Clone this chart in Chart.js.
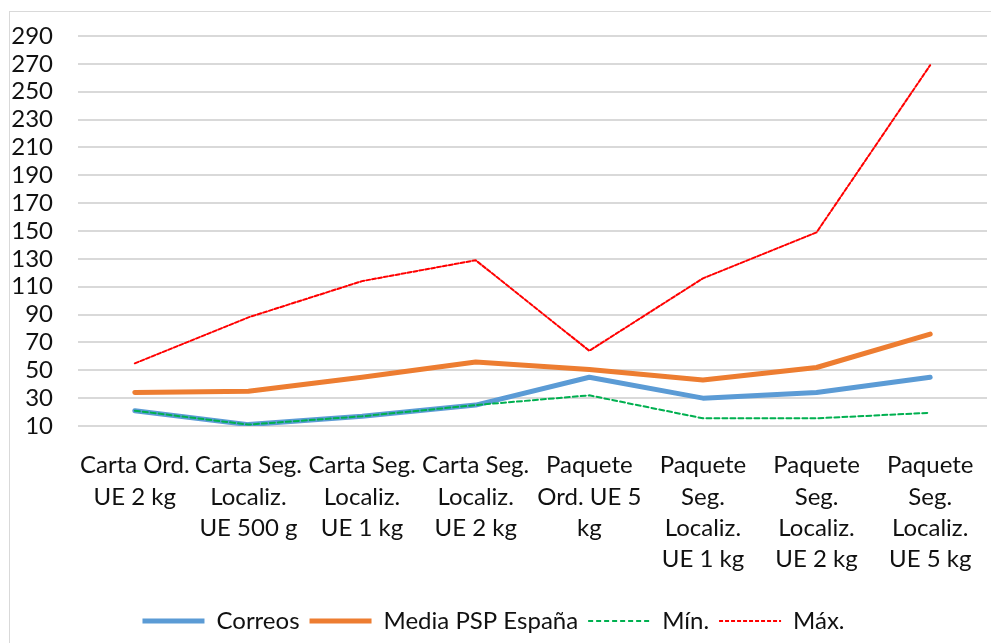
<!DOCTYPE html>
<html lang="es">
<head>
<meta charset="utf-8">
<title>Correos vs PSP España</title>
<script src="https://cdn.jsdelivr.net/npm/chart.js@4"></script>
<style>
    body { margin: 0; background: #fff; }
    #marco { position: relative; width: 991px; height: 643px; overflow: hidden; }
    #borde { position: absolute; left: 9px; top: 11px; width: 1000px; height: 700px; border: 1px solid #d9d9d9; }
    #grafica { position: absolute; left: 0; top: 0; }
</style>
</head>
<body>
<div id="marco">
    <div id="borde"></div>
    <canvas id="grafica" width="991" height="643"></canvas>
</div>
<script>
// Categorías (etiquetas en varias líneas como en el original)
const categorias = [
    ['Carta Ord.', 'UE 2 kg'],
    ['Carta Seg.', 'Localiz.', 'UE 500 g'],
    ['Carta Seg.', 'Localiz.', 'UE 1 kg'],
    ['Carta Seg.', 'Localiz.', 'UE 2 kg'],
    ['Paquete', 'Ord. UE 5', 'kg'],
    ['Paquete', 'Seg.', 'Localiz.', 'UE 1 kg'],
    ['Paquete', 'Seg.', 'Localiz.', 'UE 2 kg'],
    ['Paquete', 'Seg.', 'Localiz.', 'UE 5 kg']
];

// Valores de cada serie
const correos = [21, 11, 17, 25, 45, 30, 34, 45];
const mediaPsp = [34, 35, 45, 56, 50.5, 43, 52, 76];
const minimo = [21, 11, 17, 25, 32, 15.5, 15.5, 19.5];
const maximo = [55, 88, 114, 129, 64, 116, 149, 269];

// Marcas del eje Y
const marcasY = [10, 30, 50, 70, 90, 110, 130, 150, 170, 190, 210, 230, 250, 270, 290];

const fuente = { family: 'Lato, "Noto Sans", sans-serif', size: 24 };

new Chart(document.getElementById('grafica'), {
    type: 'line',
    data: {
        labels: categorias,
        datasets: [
            {
                label: 'Correos',
                data: correos,
                borderColor: '#5b9bd5',
                backgroundColor: '#5b9bd5',
                borderWidth: 5,
                order: 4
            },
            {
                label: 'Media PSP España',
                data: mediaPsp,
                borderColor: '#ed7d31',
                backgroundColor: '#ed7d31',
                borderWidth: 5,
                order: 3
            },
            {
                label: 'Mín.',
                data: minimo,
                borderColor: '#00b050',
                backgroundColor: '#00b050',
                borderWidth: 2,
                borderDash: [5, 3],
                order: 2
            },
            {
                label: 'Máx.',
                data: maximo,
                borderColor: '#ff0000',
                backgroundColor: '#ff0000',
                borderWidth: 2,
                borderDash: [4, 2],
                order: 1
            }
        ]
    },
    options: {
        responsive: false,
        animation: false,
        layout: { padding: { top: 22, right: 4, bottom: 0 } },
        elements: {
            point: { radius: 0, hoverRadius: 0 },
            line: { tension: 0, borderCapStyle: 'round', borderJoinStyle: 'round' }
        },
        scales: {
            x: {
                offset: true,
                afterFit: eje => {
                    eje.height = 173;
                    eje.paddingLeft = 0;
                    eje.paddingRight = 0;
                },
                grid: { display: false, drawTicks: false, offset: true },
                border: { display: false },
                ticks: {
                    color: '#111',
                    font: { ...fuente, lineHeight: 1.3 },
                    padding: 24,
                    maxRotation: 0,
                    autoSkip: false
                }
            },
            y: {
                min: 10,
                max: 300,
                afterBuildTicks: eje => { eje.ticks = marcasY.map(v => ({ value: v })); },
                afterFit: eje => {
                    eje.width = 78;
                    eje.paddingTop = 0;
                    eje.paddingBottom = 0;
                },
                grid: { color: '#d9d9d9', lineWidth: 2, drawTicks: false },
                border: { display: false },
                ticks: {
                    color: '#111',
                    font: fuente,
                    padding: 25,
                    autoSkip: false
                }
            }
        },
        plugins: {
            legend: {
                position: 'bottom',
                labels: {
                    color: '#111',
                    font: fuente,
                    usePointStyle: true,
                    pointStyle: 'line',
                    pointStyleWidth: 62,
                    boxHeight: 8,
                    padding: 10,
                    sort: (a, b) => a.datasetIndex - b.datasetIndex,
                    // El estilo de punto no lleva el guion: se copia de la serie
                    generateLabels: chart => {
                        const items = Chart.defaults.plugins.legend.labels.generateLabels(chart);
                        items.forEach(item => {
                            const ds = chart.data.datasets[item.datasetIndex];
                            item.lineDash = ds.borderDash || [];
                            item.lineWidth = ds.borderWidth === 5 ? 5 : 2;
                        });
                        return items;
                    }
                }
            },
            tooltip: { enabled: false }
        }
    }
});
</script>
</body>
</html>
